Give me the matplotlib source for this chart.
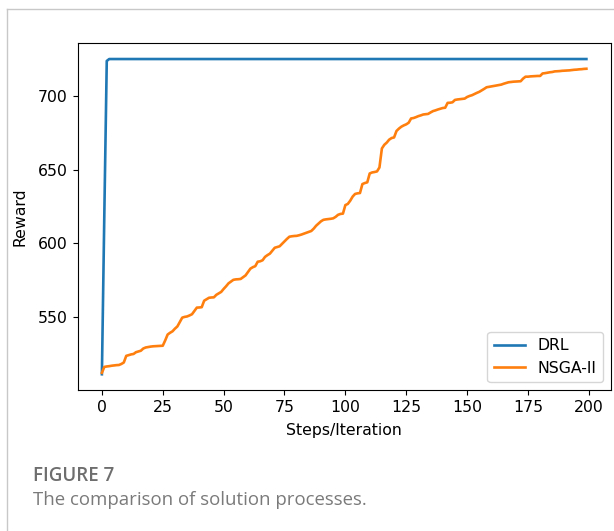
import matplotlib.pyplot as plt
from matplotlib.lines import Line2D

steps = list(range(200))

# DRL jumps up in the first few steps and then stays flat
drl_steps = [0, 1, 2, 3, 199]
drl_reward = [511, 620, 724, 725.3, 725.3]

nsga_reward = [
    512, 516, 516.3, 516.5, 516.8, 517, 517.2, 517.3, 518, 519,
    523.5, 524, 524.5, 524.8, 526, 526.5, 527, 528.5, 529.2, 529.5,
    529.8, 530, 530.1, 530.2, 530.3, 530.4, 534, 538, 539.2, 540.2,
    542, 543.5, 546.5, 549.5, 550, 550.3, 551, 551.8, 554, 556.3,
    556.4, 556.6, 561, 562, 563, 563.2, 563.3, 565, 566, 567,
    569, 570.8, 572.8, 574, 575.2, 575.5, 575.6, 575.8, 577, 578.2,
    580.5, 582.8, 583.8, 584.5, 587.5, 587.8, 588.5, 590.8, 592, 593,
    595, 597, 597.5, 598, 599.7, 601.3, 603, 604.5, 604.8, 605,
    605.1, 605.5, 606, 606.6, 607.2, 607.8, 608.4, 610, 612, 613.5,
    615, 616, 616.3, 616.5, 616.7, 617, 618, 619.4, 620, 620.2,
    626, 626.8, 629, 631.8, 633.6, 634, 634.2, 640.3, 641, 641.5,
    647.5, 648.2, 648.5, 648.9, 651.6, 664.5, 667, 668.5, 670.5, 671.6,
    672, 676.4, 678, 679.3, 680.2, 680.9, 682, 684.9, 685.2, 685.8,
    686.5, 687, 687.6, 687.8, 688, 689, 689.9, 690.4, 691, 691.5,
    692, 692.2, 695.5, 695.6, 695.9, 697.5, 697.8, 698, 698.2, 698.4,
    699.5, 700.2, 700.7, 701.5, 702.3, 703, 704, 705, 706.1, 706.4,
    706.7, 707, 707.3, 707.6, 707.9, 708.5, 709, 709.5, 709.7, 709.9,
    710, 710.1, 710.2, 712, 713.3, 713.3, 713.5, 713.6, 713.7, 713.8,
    713.8, 715.5, 715.7, 716, 716.3, 716.5, 716.9, 717, 717.1, 717.3,
    717.4, 717.5, 717.6, 717.8, 718, 718.1, 718.3, 718.4, 718.6, 718.7,
]

x_ticks = [0, 25, 50, 75, 100, 125, 150, 175, 200]
y_ticks = [550, 600, 650, 700]

plt.rcParams['font.size'] = 11.3

fig = plt.figure(figsize=(6.14, 5.31), dpi=100)
ax = fig.add_axes([0.1265, 0.2655, 0.868, 0.653])

ax.plot(drl_steps, drl_reward, color='#1f77b4', lw=1.9, label='DRL')
ax.plot(steps, nsga_reward, color='#ff7f0e', lw=1.9, label='NSGA-II')
ax.set_xticks(x_ticks)
ax.set_yticks(y_ticks)
ax.set_xlabel('Steps/Iteration', labelpad=6)
ax.set_ylabel('Reward', labelpad=7.5)
ax.legend(loc='lower right', fontsize=11.3)

# card frame around the figure
fig.add_artist(Line2D([7 / 614, 1], [1 - 9 / 531] * 2, color='#c8c8c8', lw=1))
fig.add_artist(Line2D([7 / 614] * 2, [0, 1 - 9 / 531], color='#c8c8c8', lw=1))

fig.text(33 / 614, 1 - 476 / 531, 'FIGURE 7', fontsize=13.5, color='#6e6e6e',
         family='Open Sans', weight='semibold', va='center')
fig.text(33 / 614, 1 - 500 / 531, 'The comparison of solution processes.',
         fontsize=13.4, color='#7a7a7a', family='Open Sans', va='center')

fig.savefig('out.png', dpi=100)
